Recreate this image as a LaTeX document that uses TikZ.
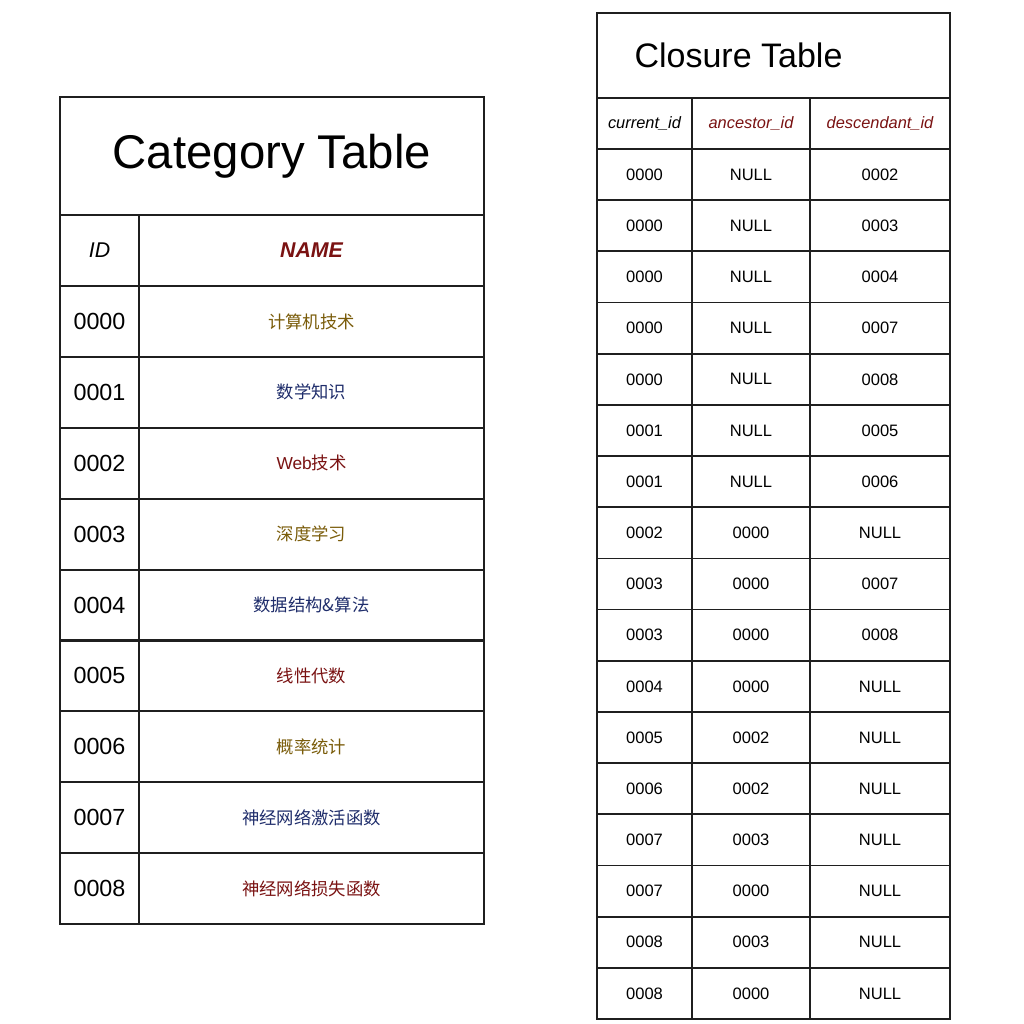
\documentclass[tikz,border=0pt]{standalone}
\usepackage{fontspec}
\setmainfont{Liberation Sans}
\newfontfamily\cjk{Noto Sans CJK SC}
\definecolor{cgold}{HTML}{7A5C0A}
\definecolor{cnavy}{HTML}{1F2D6B}
\definecolor{cred}{HTML}{7A1212}
\tikzset{
  cell/.style={draw=black!88, line width=1.5pt, inner sep=0pt, outer sep=0pt, anchor=center},
  ccell/.style={draw=black!88, line width=1.3pt, inner sep=0pt, outer sep=0pt, anchor=center},
  idtxt/.style={font=\fontsize{17.5}{20}\selectfont},
  cntxt/.style={font=\cjk\fontsize{13}{15}\selectfont},
  cltxt/.style={font=\fontsize{12.4}{14}\selectfont},
  clhead/.style={font=\itshape\fontsize{12.3}{14}\selectfont}
}
\begin{document}
\begin{tikzpicture}[x=0.75pt,y=-0.75pt]
\useasboundingbox[fill=white] (0,0) rectangle (1024,1024);
% ---------------- Category Table ----------------
\node[cell, minimum width=318pt, minimum height=88.5pt] (cattitle) at (272,156) {};
\node[font=\fontsize{35.5}{40}\selectfont] (cattitletxt) at (272,156) {Category Table};
\node[cell, minimum width=59.25pt, minimum height=53.25pt] (catidh) at (99.5,250.5) {};
\node[font=\itshape\fontsize{16}{19}\selectfont] (catidhtxt) at (99.5,250.5) {ID};
\node[cell, minimum width=258.75pt, minimum height=53.25pt] (catnameh) at (311.5,250.5) {};
\node[font=\bfseries\itshape\fontsize{16}{19}\selectfont, text=cred] (catnamehtxt) at (311.5,250.5) {NAME};
\foreach \id/\nm/\col [count=\i from 0] in {
  0000/计算机技术/cgold,
  0001/数学知识/cnavy,
  0002/{{\rmfamily Web}技术}/cred,
  0003/深度学习/cgold,
  0004/数据结构\&算法/cnavy,
  0005/线性代数/cred,
  0006/概率统计/cgold,
  0007/神经网络激活函数/cnavy,
  0008/神经网络损失函数/cred}{
  \pgfmathsetmacro{\yc}{286+70.9*\i+35.45}
  \node[cell, minimum width=59.25pt, minimum height=53.2pt] (catid\i) at (99.5,\yc) {};
  \node[idtxt] (catidt\i) at (99.5,\yc) {\id};
  \node[cell, minimum width=258.75pt, minimum height=53.2pt] (catnm\i) at (311.5,\yc) {};
  \node[cntxt, text=\col] (catnmt\i) at (311.5,\yc) {\nm};
}
% ---------------- Closure Table ----------------
\node[ccell, minimum width=264.75pt, minimum height=63.75pt] (cltitle) at (773.5,55.5) {};
\node[font=\fontsize{25.5}{30}\selectfont] (cltitletxt) at (738.5,55) {Closure Table};
\node[ccell, minimum width=71.25pt, minimum height=38.25pt] (clh1) at (644.5,123.5) {};
\node[clhead] (clh1t) at (644.5,123.5) {current\_id};
\node[ccell, minimum width=88.5pt, minimum height=38.25pt] (clh2) at (751,123.5) {};
\node[clhead, text=cred] (clh2t) at (751,123.5) {ancestor\_id};
\node[ccell, minimum width=105pt, minimum height=38.25pt] (clh3) at (880,123.5) {};
\node[clhead, text=cred] (clh3t) at (880,123.5) {descendant\_id};
\foreach \a/\b/\c [count=\i from 0] in {
  0000/NULL/0002, 0000/NULL/0003, 0000/NULL/0004, 0000/NULL/0007,
  0000/NULL/0008, 0001/NULL/0005, 0001/NULL/0006, 0002/0000/NULL,
  0003/0000/0007, 0003/0000/0008, 0004/0000/NULL, 0005/0002/NULL,
  0006/0002/NULL, 0007/0003/NULL, 0007/0000/NULL, 0008/0003/NULL,
  0008/0000/NULL}{
  \pgfmathsetmacro{\yc}{149+51.18*\i+25.59}
  \node[ccell, minimum width=71.25pt, minimum height=38.38pt] (clra\i) at (644.5,\yc) {};
  \node[cltxt] (clrat\i) at (644.5,\yc) {\a};
  \node[ccell, minimum width=88.5pt, minimum height=38.38pt] (clrb\i) at (751,\yc) {};
  \node[cltxt] (clrbt\i) at (751,\yc) {\b};
  \node[ccell, minimum width=105pt, minimum height=38.38pt] (clrc\i) at (880,\yc) {};
  \node[cltxt] (clrct\i) at (880,\yc) {\c};
}
\end{tikzpicture}
\end{document}
